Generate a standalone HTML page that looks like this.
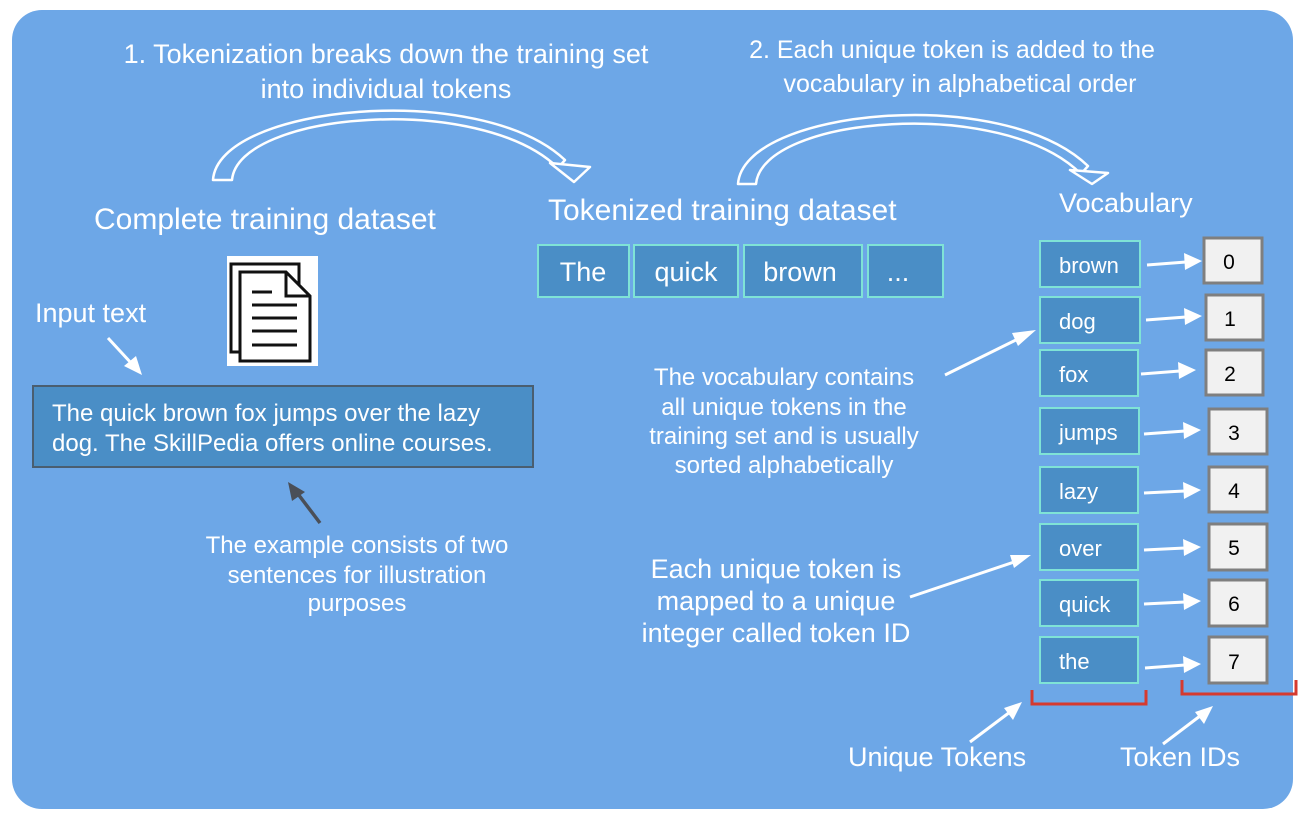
<!DOCTYPE html>
<html><head><meta charset="utf-8"><style>
html,body{margin:0;padding:0;background:#fff;}
svg{display:block;}
text{font-family:"Liberation Sans",Arial,sans-serif;}
</style></head><body>
<svg width="1300" height="822" viewBox="0 0 1300 822" xmlns="http://www.w3.org/2000/svg">
<rect x="12" y="10" width="1281" height="799" rx="30" fill="#6da7e7"/>

<g fill="#fff" text-anchor="middle">
<text x="386" y="63" font-size="27">1. Tokenization breaks down the training set</text>
<text x="386" y="98" font-size="27">into individual tokens</text>
<text x="952" y="58" font-size="25">2. Each unique token is added to the</text>
<text x="960" y="92" font-size="25">vocabulary in alphabetical order</text>
</g>

<!-- curved hollow arrows -->
<g fill="#6da7e7" stroke="#fff" stroke-width="2.5" stroke-linejoin="round">
<path d="M213,180 C218,105 480,80 565,160 L558,168 C480,92 238,112 232,180 Z"/>
<polygon points="550,163 590,167 574,182"/>
<path d="M738,184 C743,109 1003,84 1088,166 L1081,174 C1003,96 762,116 756,184 Z"/>
<polygon points="1070,170 1108,173 1092,184"/>
</g>

<g fill="#fff" font-size="30">
<text x="94" y="229">Complete training dataset</text>
<text x="548" y="220">Tokenized training dataset</text>
<text x="1059" y="212" font-size="27">Vocabulary</text>
</g>

<!-- doc icon -->
<rect x="227" y="256" width="91" height="110" fill="#fff"/>
<g fill="none" stroke="#111" stroke-width="3">
<path d="M231,264 H299 V352 H231 Z" fill="#fff"/>
<path d="M240,272 H286 L310,296 V361 H240 Z" fill="#fff"/>
<path d="M286,272 V296 H310"/>
<path d="M252,292 H272 M252,305 H297 M252,318 H297 M252,331 H297 M252,345 H297"/>
</g>

<!-- token boxes -->
<g fill="#4a8ec6" stroke="#7fe3d6" stroke-width="2">
<rect x="538" y="245" width="91" height="52"/>
<rect x="634" y="245" width="104" height="52"/>
<rect x="744" y="245" width="118" height="52"/>
<rect x="868" y="245" width="75" height="52"/>
</g>
<g fill="#fff" font-size="27" text-anchor="middle">
<text x="583" y="281">The</text>
<text x="686" y="281">quick</text>
<text x="800" y="281">brown</text>
<text x="898" y="281">...</text>
</g>

<!-- input -->
<text x="35" y="322" fill="#fff" font-size="27">Input text</text>
<line x1="108" y1="338" x2="132" y2="364" stroke="#fff" stroke-width="3"/>
<polygon points="142,375 124,366 136,356" fill="#fff"/>
<rect x="33" y="386" width="500" height="81" fill="#4a8ec6" stroke="#4a5e70" stroke-width="2"/>
<g fill="#fff" font-size="24">
<text x="52" y="421">The quick brown fox jumps over the lazy</text>
<text x="52" y="451">dog. The SkillPedia offers online courses.</text>
</g>
<line x1="320" y1="523" x2="298" y2="494" stroke="#4a4f58" stroke-width="3.5"/>
<polygon points="288,482 305,492 292,501" fill="#4a4f58"/>
<g fill="#fff" font-size="24" text-anchor="middle">
<text x="357" y="553">The example consists of two</text>
<text x="357" y="583">sentences for illustration</text>
<text x="357" y="611">purposes</text>
</g>

<!-- vocab notes -->
<g fill="#fff" font-size="24" text-anchor="middle">
<text x="784" y="385">The vocabulary contains</text>
<text x="784" y="415">all unique tokens in the</text>
<text x="784" y="444">training set and is usually</text>
<text x="784" y="473">sorted alphabetically</text>
</g>
<line x1="945" y1="375" x2="1022" y2="337" stroke="#fff" stroke-width="3"/>
<polygon points="1036,330 1018,346 1012,333" fill="#fff"/>
<g fill="#fff" font-size="27" text-anchor="middle">
<text x="776" y="578">Each unique token is</text>
<text x="776" y="610">mapped to a unique</text>
<text x="776" y="642">integer called token ID</text>
</g>
<line x1="910" y1="597" x2="1017" y2="561" stroke="#fff" stroke-width="3"/>
<polygon points="1031,555 1014,568 1010,555" fill="#fff"/>

<!-- vocab boxes -->
<g fill="#4a8ec6" stroke="#7fe3d6" stroke-width="2">
<rect x="1040" y="241" width="100" height="46"/>
<rect x="1040" y="297" width="100" height="46"/>
<rect x="1040" y="350" width="98" height="46"/>
<rect x="1040" y="408" width="99" height="46"/>
<rect x="1040" y="467" width="98" height="46"/>
<rect x="1040" y="524" width="98" height="46"/>
<rect x="1040" y="580" width="98" height="46"/>
<rect x="1040" y="637" width="98" height="46"/>
</g>
<g fill="#fff" font-size="22">
<text x="1059" y="273">brown</text>
<text x="1059" y="329">dog</text>
<text x="1059" y="382">fox</text>
<text x="1059" y="440">jumps</text>
<text x="1059" y="499">lazy</text>
<text x="1059" y="556">over</text>
<text x="1059" y="612">quick</text>
<text x="1059" y="669">the</text>
</g>

<!-- id boxes -->
<g fill="#f1f1f1" stroke="#7f7f7f" stroke-width="3">
<rect x="1204" y="238" width="58" height="45"/>
<rect x="1206" y="295" width="57" height="45"/>
<rect x="1206" y="350" width="57" height="45"/>
<rect x="1209" y="409" width="58" height="45"/>
<rect x="1209" y="467" width="58" height="45"/>
<rect x="1209" y="524" width="58" height="46"/>
<rect x="1209" y="580" width="58" height="46"/>
<rect x="1209" y="637" width="58" height="46"/>
</g>
<g fill="#000" font-size="21" text-anchor="middle">
<text x="1229" y="269">0</text>
<text x="1230" y="326">1</text>
<text x="1230" y="381">2</text>
<text x="1234" y="440">3</text>
<text x="1234" y="498">4</text>
<text x="1234" y="555">5</text>
<text x="1234" y="611">6</text>
<text x="1234" y="669">7</text>
</g>

<!-- small arrows -->
<g stroke="#fff" stroke-width="3">
<line x1="1147" y1="265" x2="1186" y2="262"/>
<line x1="1146" y1="320" x2="1186" y2="317"/>
<line x1="1141" y1="374" x2="1180" y2="371"/>
<line x1="1144" y1="434" x2="1185" y2="431"/>
<line x1="1144" y1="493" x2="1185" y2="491"/>
<line x1="1144" y1="550" x2="1185" y2="548"/>
<line x1="1144" y1="604" x2="1185" y2="602"/>
<line x1="1145" y1="668" x2="1185" y2="665"/>
</g>
<g fill="#fff">
<polygon points="1202,261 1184,253 1185,270"/>
<polygon points="1202,316 1184,308 1185,325"/>
<polygon points="1196,370 1178,362 1179,379"/>
<polygon points="1201,430 1183,422 1184,439"/>
<polygon points="1201,490 1183,482 1184,499"/>
<polygon points="1201,547 1183,539 1184,556"/>
<polygon points="1201,601 1183,593 1184,610"/>
<polygon points="1201,664 1183,656 1184,673"/>
</g>

<!-- brackets -->
<path d="M1032,690 V704 H1146 V690" fill="none" stroke="#d63a2f" stroke-width="3"/>
<path d="M1182,680 V694 H1296 V680" fill="none" stroke="#d63a2f" stroke-width="3"/>

<line x1="970" y1="742" x2="1010" y2="712" stroke="#fff" stroke-width="3"/>
<polygon points="1022,702 1013,720 1004,708" fill="#fff"/>
<line x1="1163" y1="744" x2="1200" y2="716" stroke="#fff" stroke-width="3"/>
<polygon points="1213,706 1204,724 1195,712" fill="#fff"/>

<g fill="#fff" font-size="27">
<text x="848" y="766">Unique Tokens</text>
<text x="1120" y="766">Token IDs</text>
</g>
</svg>
</body></html>
